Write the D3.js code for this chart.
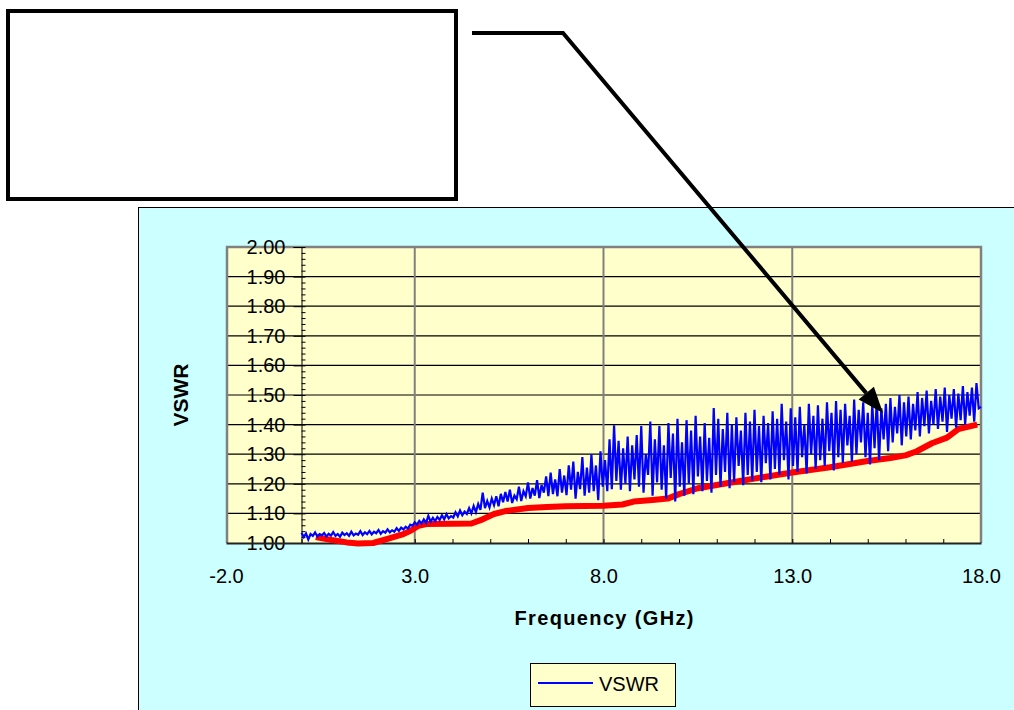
<!DOCTYPE html>
<html>
<head>
<meta charset="utf-8">
<script src="https://cdn.jsdelivr.net/npm/d3@7"></script>
<style>
  body { margin: 0; background: #ffffff; }
  text { font-family: "Liberation Sans", Arial, sans-serif; fill: #000; }
</style>
</head>
<body>
<div class="chart"></div>
<script>
// ---------------------------------- DATA

// blue trace: measured VSWR, sweep starts at 0 GHz, one point every 0.06 GHz
var sweepStart = 0.0;
var sweepStep = 0.06;
var vswrBlue = [
  1.035, 1.020, 1.032, 1.012, 1.030, 1.024, 1.036, 1.022, 1.030, 1.026,
  1.034, 1.022, 1.031, 1.025, 1.037, 1.024, 1.030, 1.021, 1.035, 1.027,
  1.033, 1.024, 1.038, 1.026, 1.032, 1.028, 1.040, 1.027, 1.036, 1.030,
  1.041, 1.029, 1.038, 1.033, 1.044, 1.031, 1.040, 1.035, 1.046, 1.036,
  1.043, 1.038, 1.050, 1.041, 1.052, 1.046, 1.055, 1.049, 1.062, 1.058,
  1.070, 1.062, 1.075, 1.066, 1.080, 1.068, 1.092, 1.072, 1.085, 1.074,
  1.088, 1.078, 1.094, 1.080, 1.098, 1.083, 1.091, 1.086, 1.104, 1.090,
  1.110, 1.094, 1.106, 1.098, 1.118, 1.100, 1.125, 1.104, 1.132, 1.112,
  1.170, 1.118, 1.142, 1.120, 1.150, 1.128, 1.158, 1.124, 1.166, 1.138,
  1.172, 1.140, 1.180, 1.135, 1.160, 1.148, 1.190, 1.142, 1.175, 1.158,
  1.205, 1.150, 1.186, 1.160, 1.212, 1.152, 1.196, 1.170, 1.225, 1.158,
  1.238, 1.165, 1.215, 1.158, 1.250, 1.170, 1.228, 1.162, 1.262, 1.180,
  1.275, 1.150, 1.240, 1.182, 1.290, 1.160, 1.255, 1.170, 1.300, 1.175,
  1.262, 1.145, 1.310, 1.190, 1.280, 1.175, 1.350, 1.182, 1.398, 1.210,
  1.345, 1.180, 1.320, 1.200, 1.360, 1.175, 1.330, 1.215, 1.365, 1.190,
  1.395, 1.170, 1.300, 1.230, 1.410, 1.160, 1.350, 1.205, 1.395, 1.180,
  1.330, 1.150, 1.405, 1.220, 1.370, 1.140, 1.420, 1.190, 1.340, 1.160,
  1.415, 1.200, 1.380, 1.165, 1.430, 1.225, 1.360, 1.175, 1.405, 1.210,
  1.355, 1.170, 1.456, 1.230, 1.420, 1.190, 1.385, 1.240, 1.440, 1.185,
  1.400, 1.205, 1.425, 1.260, 1.380, 1.195, 1.440, 1.230, 1.410, 1.210,
  1.450, 1.240, 1.395, 1.205, 1.430, 1.270, 1.405, 1.215, 1.445, 1.250,
  1.420, 1.230, 1.470, 1.280, 1.410, 1.215, 1.455, 1.260, 1.425, 1.240,
  1.460, 1.290, 1.400, 1.235, 1.470, 1.300, 1.430, 1.250, 1.465, 1.280,
  1.420, 1.260, 1.475, 1.310, 1.440, 1.245, 1.480, 1.290, 1.450, 1.270,
  1.470, 1.330, 1.430, 1.275, 1.485, 1.300, 1.450, 1.340, 1.475, 1.290,
  1.440, 1.265, 1.470, 1.320, 1.485, 1.280, 1.455, 1.350, 1.470, 1.310,
  1.490, 1.340, 1.460, 1.370, 1.500, 1.330, 1.475, 1.360, 1.495, 1.350,
  1.470, 1.380, 1.510, 1.360, 1.490, 1.395, 1.515, 1.370, 1.480, 1.400,
  1.520, 1.385, 1.495, 1.410, 1.525, 1.375, 1.500, 1.420, 1.520, 1.390,
  1.505, 1.415, 1.530, 1.400, 1.510, 1.430, 1.525, 1.410, 1.540, 1.455,
  1.460
];

// red trace (smoothed limit curve)
var redFreq = [0.38, 0.8, 1.2, 1.5, 1.9, 2.3, 2.7, 2.9, 3.1, 3.3, 4.0, 4.5, 4.8, 5.1, 5.4,
  6.0, 6.5, 7.0, 8.0, 8.5, 8.8, 9.3, 9.7, 10.0, 10.5, 11.0, 11.5, 12.3, 13.0, 14.0,
  15.0, 15.6, 16.0, 16.3, 16.7, 17.1, 17.4, 17.9];
var redVswr = [1.020, 1.010, 1.002, 0.998, 1.000, 1.015, 1.030, 1.042, 1.058, 1.064, 1.065, 1.066, 1.080, 1.098, 1.108,
  1.118, 1.122, 1.124, 1.126, 1.130, 1.140, 1.145, 1.150, 1.165, 1.185, 1.196, 1.207, 1.224, 1.238, 1.256,
  1.277, 1.287, 1.296, 1.310, 1.337, 1.356, 1.385, 1.400];

var xTicks = [-2, 3, 8, 13, 18];
var yTicks = [1.0, 1.1, 1.2, 1.3, 1.4, 1.5, 1.6, 1.7, 1.8, 1.9, 2.0];

var blueData = vswrBlue.map(function(v, i){ return {f: sweepStart + i * sweepStep, v: v}; });
var redData = redFreq.map(function(f, i){ return {f: f, v: redVswr[i]}; });

// ---------------------------------- SVG + SCALES

var svg = d3.select(".chart").append("svg")
  .attr("width", 1014)
  .attr("height", 710);

var plot = {left: 227, right: 981, top: 247, bottom: 543};

var x = d3.scaleLinear().domain([-2, 18]).range([226, 981]);
var y = d3.scaleLinear().domain([1, 2]).range([plot.bottom, plot.top]);

// chart area (cyan)
svg.append("rect")
  .attr("x", 138.5).attr("y", 207.5)
  .attr("width", 900).attr("height", 600)
  .attr("fill", "#ccffff")
  .attr("stroke", "#000").attr("stroke-width", 1);

// plot area (yellow)
svg.append("rect")
  .attr("x", plot.left).attr("y", plot.top)
  .attr("width", plot.right - plot.left).attr("height", plot.bottom - plot.top)
  .attr("fill", "#ffffcc");

// ---------------------------------- GRID

svg.append("g").selectAll("line.h")
  .data(yTicks.slice(1))
  .enter().append("line")
    .attr("x1", plot.left).attr("x2", plot.right)
    .attr("y1", function(d){ return y(d); })
    .attr("y2", function(d){ return y(d); })
    .attr("stroke", "#000").attr("stroke-width", 1.2);

svg.append("g").selectAll("line.v")
  .data(xTicks.slice(1, -1))
  .enter().append("line")
    .attr("x1", function(d){ return x(d); })
    .attr("x2", function(d){ return x(d); })
    .attr("y1", plot.top).attr("y2", plot.bottom)
    .attr("stroke", "#808080").attr("stroke-width", 2);

// plot border: gray on left, top and right
svg.append("path")
  .attr("d", "M" + plot.left + "," + plot.bottom + "V" + plot.top + "H" + plot.right + "V" + plot.bottom)
  .attr("fill", "none")
  .attr("stroke", "#808080").attr("stroke-width", 2.5);

// ---------------------------------- AXES

// y axis sits at 0 GHz
var yAxis = d3.axisLeft(y).tickValues(yTicks).tickSize(8).tickPadding(8)
  .tickFormat(function(d){ return d.toFixed(2); });
var gy = svg.append("g")
  .attr("transform", "translate(" + x(0) + ",0)")
  .call(yAxis);
gy.selectAll("text").attr("font-size", 20).style("font-family", "Liberation Sans, Arial, sans-serif");

var yMinor = d3.axisRight(y).ticks(50).tickSize(4).tickFormat("");
svg.append("g")
  .attr("transform", "translate(" + x(0) + ",0)")
  .call(yMinor)
  .call(function(g){ g.select(".domain").remove(); });

// x axis (plain hyphen for the minus sign, like the original)
var xAxis = d3.axisBottom(x).tickValues(xTicks).tickSize(0).tickPadding(26)
  .tickFormat(function(d){ return d.toFixed(1); });
var gx = svg.append("g")
  .attr("transform", "translate(0," + plot.bottom + ")")
  .call(xAxis);
gx.select(".domain").attr("stroke", "#222").attr("stroke-width", 2);
gx.selectAll("text").attr("font-size", 20).style("font-family", "Liberation Sans, Arial, sans-serif");

var xMinor = d3.axisTop(x).tickValues(d3.range(-1, 18, 1)).tickSize(4).tickFormat("");
svg.append("g")
  .attr("transform", "translate(0," + plot.bottom + ")")
  .call(xMinor)
  .call(function(g){ g.select(".domain").remove(); });

// ---------------------------------- LINES

var line = d3.line()
  .x(function(d){ return x(d.f); })
  .y(function(d){ return y(d.v); });

svg.append("path")
  .attr("fill", "none")
  .attr("stroke", "#ff0000")
  .attr("stroke-width", 6)
  .attr("stroke-linejoin", "round")
  .attr("d", line(redData));

svg.append("path")
  .attr("fill", "none")
  .attr("stroke", "#0000ff")
  .attr("stroke-width", 2.2)
  .attr("d", line(blueData));

// ---------------------------------- TITLES

svg.append("text")
  .attr("x", (plot.left + plot.right) / 2).attr("y", 625)
  .attr("text-anchor", "middle")
  .attr("font-size", 20).attr("font-weight", "bold")
  .attr("textLength", 179).attr("lengthAdjust", "spacing")
  .text("Frequency (GHz)");

svg.append("text")
  .attr("transform", "translate(188," + ((plot.top + plot.bottom) / 2) + ") rotate(-90)")
  .attr("text-anchor", "middle")
  .attr("font-size", 21).attr("font-weight", "bold")
  .text("VSWR");

// ---------------------------------- LEGEND

var legend = svg.append("g");
legend.append("rect")
  .attr("x", 530.5).attr("y", 663.5).attr("width", 145).attr("height", 43)
  .attr("fill", "#ffffcc").attr("stroke", "#000").attr("stroke-width", 1);
legend.append("line")
  .attr("x1", 538).attr("x2", 593).attr("y1", 683).attr("y2", 683)
  .attr("stroke", "#0000ff").attr("stroke-width", 2);
legend.append("text")
  .attr("x", 599).attr("y", 691)
  .attr("font-size", 20)
  .text("VSWR");

// ---------------------------------- CALLOUT

svg.append("rect")
  .attr("x", 8).attr("y", 11).attr("width", 448).attr("height", 188)
  .attr("fill", "#fff").attr("stroke", "#000").attr("stroke-width", 4);

var tip = [883, 413];
var bend = [563, 33];
var dx = tip[0] - bend[0], dy = tip[1] - bend[1];
var len = Math.sqrt(dx * dx + dy * dy);
var ux = dx / len, uy = dy / len;
var base = [tip[0] - 26 * ux, tip[1] - 26 * uy];

svg.append("path")
  .attr("d", "M472,33L" + bend[0] + ",33L" + base[0] + "," + base[1])
  .attr("fill", "none")
  .attr("stroke", "#000").attr("stroke-width", 4);

svg.append("path")
  .attr("d", "M" + tip[0] + "," + tip[1] +
    "L" + (base[0] - 10 * uy) + "," + (base[1] + 10 * ux) +
    "L" + (base[0] + 10 * uy) + "," + (base[1] - 10 * ux) + "Z")
  .attr("fill", "#000");
</script>
</body>
</html>
